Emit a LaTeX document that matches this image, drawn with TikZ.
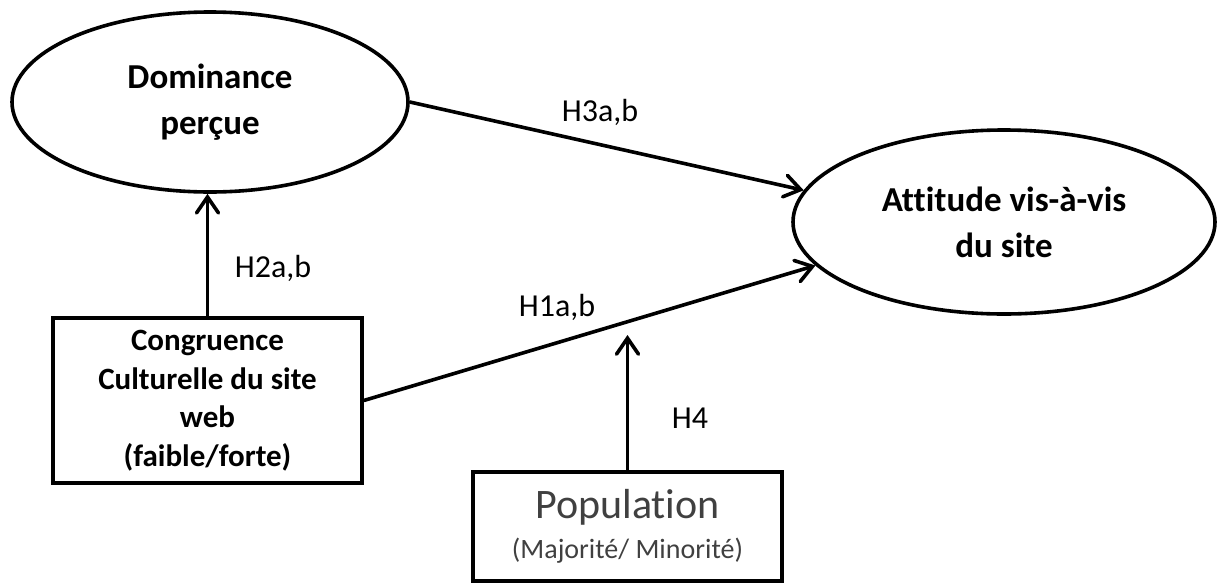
\documentclass[tikz,border=0pt]{standalone}
\usepackage{fontspec}
\setmainfont{Carlito}[Ligatures=NoCommon]
\usetikzlibrary{shapes.geometric,arrows.meta}
\begin{document}
\begin{tikzpicture}[x=1pt,y=-1pt,
  line width=3.6pt,
  ell/.style={draw,ellipse,inner sep=0pt,align=center,font=\fontsize{35}{46}\selectfont\bfseries},
  bx/.style={draw,rectangle,inner sep=0pt,align=center},
  arr/.style={-{Straight Barb[length=16pt,width=22pt,line cap=round]}},
  lbl/.style={font=\fontsize{32}{36}\selectfont}
]
\useasboundingbox (0,0) rectangle (1217,584);
\node[ell,minimum width=396pt,minimum height=180pt] (dom) at (210,102) {Dominance\\perçue};
\node[ell,minimum width=422pt,minimum height=184pt] (att) at (1004,222) {Attitude vis-à-vis\\du site};
\node[bx,minimum width=309pt,minimum height=165pt,font=\fontsize{31}{38.5}\selectfont\bfseries] (cong) at (207.5,400.5)
  {Congruence\\Culturelle du site\\web\\(faible/forte)};
\node[bx,minimum width=309pt,minimum height=109pt,font=\fontsize{28}{40}\selectfont,text=black!75] (pop) at (627.5,526.5)
  {{\fontsize{42}{40}\selectfont Population}\\(Majorité/ Minorité)};
\coordinate (h4end) at (627.5,335);
\draw[arr] (dom.east) -- (att.171);
\draw[arr] (cong.east) -- (att.193);
\draw[arr] (cong.north) -- (cong.north |- dom.south);
\draw[arr] (pop.north) -- (h4end);
\node[lbl] (h3) at (600,112) {H3a,b};
\node[lbl] (h2) at (273,268) {H2a,b};
\node[lbl] (h1) at (557,307) {H1a,b};
\node[lbl] (h4) at (690,418) {H4};
\end{tikzpicture}
\end{document}
